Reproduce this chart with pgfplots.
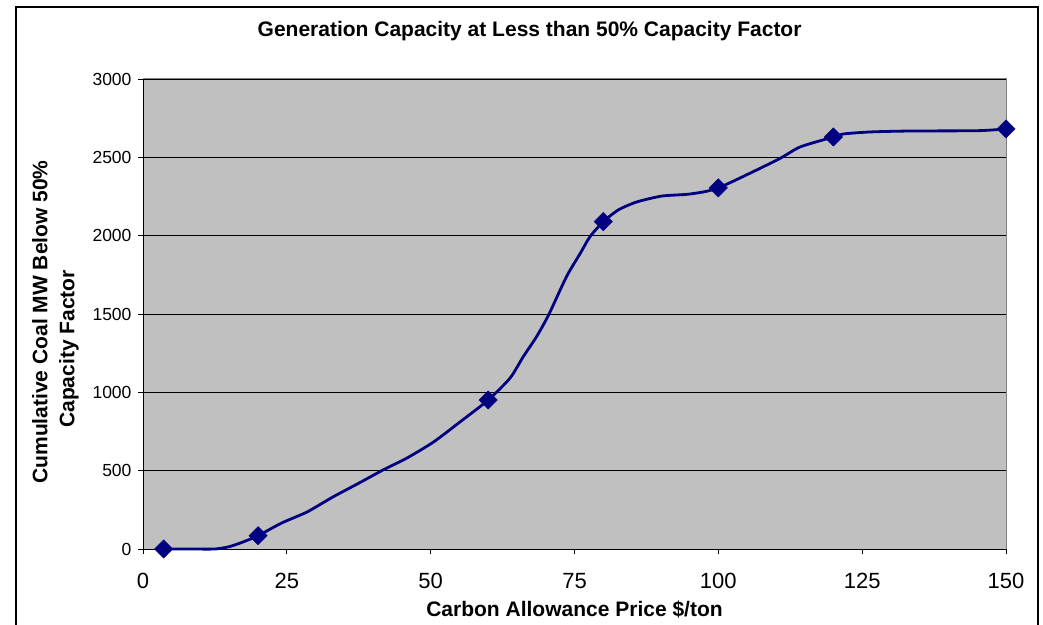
\documentclass[border=0pt]{standalone}
\usepackage{pgfplots}
\pgfplotsset{compat=1.18}
\usepackage{fontspec}
\setmainfont{Liberation Sans}

\definecolor{plotgray}{HTML}{C0C0C0}
\definecolor{navy}{HTML}{000080}

\begin{document}
\begin{tikzpicture}[x=1pt,y=1pt]
\useasboundingbox (0,0) rectangle (1043,624);
% outer chart border
\draw[black, line width=1.2pt] (16,-5) -- (16,617) -- (1038,617) -- (1038,-5);

\begin{axis}[
    at={(143pt,75pt)}, anchor=south west,
    scale only axis,
    width=863pt, height=470pt,
    xmin=0, xmax=150,
    ymin=0, ymax=3000,
    xtick={0,25,...,150},
    ytick={0,500,...,3000},
    axis lines=left,
    axis line style={-, black, line width=1pt},
    tick align=outside,
    major tick length=5pt,
    tick style={black, line width=0.8pt},
    ymajorgrids,
    grid style={black, line width=0.8pt},
    axis background/.style={fill=plotgray},
    clip=false,
    /pgf/number format/assume math mode=true,
    /pgf/number format/1000 sep={},
    yticklabel style={font=\fontsize{17.5}{20}\selectfont, xshift=-3pt},
    xticklabel style={font=\fontsize{22}{26}\selectfont, yshift=-16pt},
    title={Generation Capacity at Less than 50\% Capacity Factor},
    title style={font=\fontsize{21}{25}\selectfont\bfseries, at={(rel axis cs:0.448,1.089)}, anchor=center},
    xlabel={Carbon Allowance Price \$/ton},
    xlabel style={font=\fontsize{21}{25}\selectfont\bfseries, at={(rel axis cs:0.5,-0.1277)}, anchor=center},
    ylabel={Cumulative Coal MW Below 50\%\\Capacity Factor\hspace*{54pt}},
    ylabel style={font=\fontsize{21}{27}\selectfont\bfseries, align=center, at={(rel axis cs:-0.1014,0.483)}, anchor=center},
]
% smoothed curve
\addplot[navy, line width=2.8pt, smooth, tension=0.4, mark=none] coordinates {
    (3.6,0) (8,0) (12.5,0) (15,15) (17.4,45) (20,85) (24.1,166) (28.5,236)
    (33,332) (37.5,420) (41.7,504) (45.9,581) (50.5,683) (55.1,811) (60,951)
    (63.8,1091) (66.1,1228) (68.4,1355) (70.5,1494) (73.6,1738) (76,1887)
    (77.7,1994) (80,2089) (82.6,2164) (85.8,2215) (90.2,2253) (95.1,2266)
    (100,2305) (110.2,2483) (114.2,2566) (120,2630) (121.7,2649) (126.4,2662)
    (133.3,2668) (145,2670) (150,2681)
};
% data markers
\addplot[only marks, mark=square*, mark size=6.5pt, mark options={rotate=45, fill=navy, draw=navy}] coordinates {
    (3.6,0) (20,85) (60,951) (80,2090) (100,2305) (120,2630) (150,2681)
};
\draw[gray, line width=1pt] (rel axis cs:0,1) -- (rel axis cs:1,1) -- (rel axis cs:1,0);
\end{axis}
\end{tikzpicture}
\end{document}
